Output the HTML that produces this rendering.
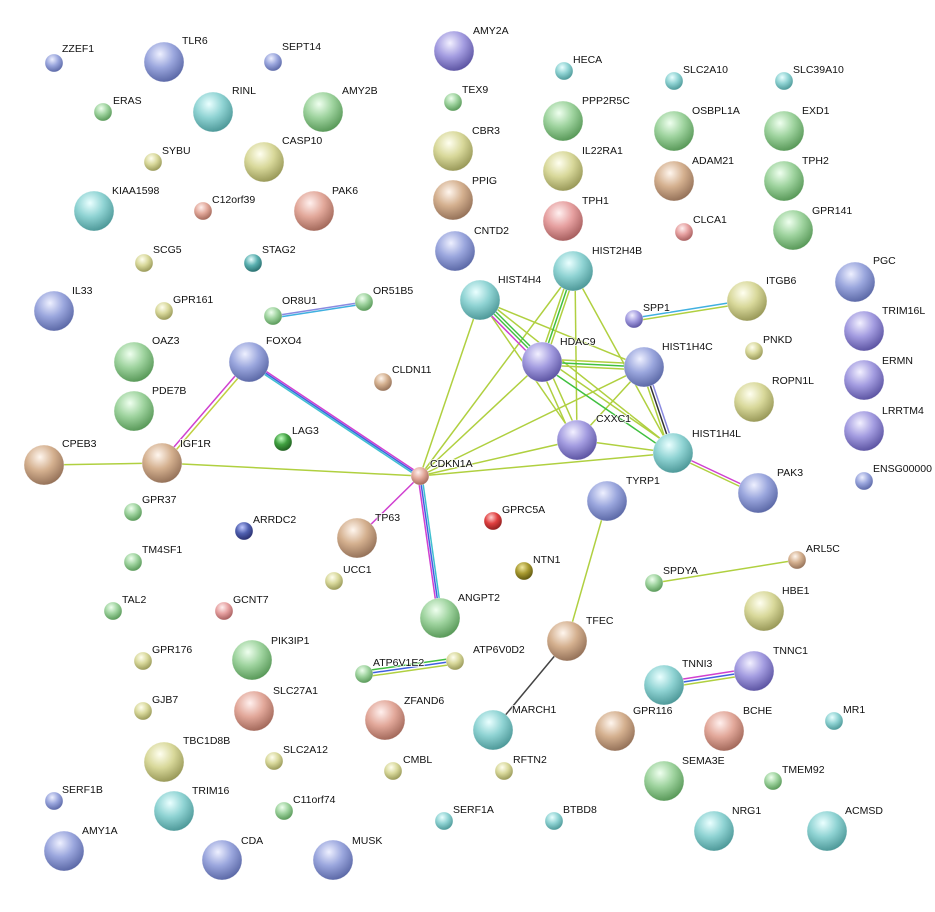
<!DOCTYPE html>
<html><head><meta charset="utf-8"><style>
html,body{margin:0;padding:0;background:#fff}
svg text{font-family:"Liberation Sans",sans-serif;font-size:10.5px;fill:#111;paint-order:stroke;stroke:#fff;stroke-width:2px;stroke-opacity:.7}
</style></head><body>
<svg width="935" height="907" viewBox="0 0 935 907" xmlns="http://www.w3.org/2000/svg">
<defs>
<radialGradient id="b" cx="40%" cy="30%" r="70%"><stop offset="0" stop-color="#eef0ff"/><stop offset=".5" stop-color="#9aa6dd"/><stop offset="1" stop-color="#5d6aa8"/></radialGradient>
<radialGradient id="t" cx="40%" cy="30%" r="70%"><stop offset="0" stop-color="#eaffff"/><stop offset=".5" stop-color="#8fd3d3"/><stop offset="1" stop-color="#4f9a9a"/></radialGradient>
<radialGradient id="g" cx="40%" cy="30%" r="70%"><stop offset="0" stop-color="#efffef"/><stop offset=".5" stop-color="#9ed39e"/><stop offset="1" stop-color="#5a9a5a"/></radialGradient>
<radialGradient id="y" cx="40%" cy="30%" r="70%"><stop offset="0" stop-color="#fffff0"/><stop offset=".5" stop-color="#d8d89a"/><stop offset="1" stop-color="#9a9a5a"/></radialGradient>
<radialGradient id="n" cx="40%" cy="30%" r="70%"><stop offset="0" stop-color="#fff6ee"/><stop offset=".5" stop-color="#d4b08f"/><stop offset="1" stop-color="#96735a"/></radialGradient>
<radialGradient id="s" cx="40%" cy="30%" r="70%"><stop offset="0" stop-color="#fff0ee"/><stop offset=".5" stop-color="#e2a89a"/><stop offset="1" stop-color="#a46a5c"/></radialGradient>
<radialGradient id="p" cx="40%" cy="30%" r="70%"><stop offset="0" stop-color="#f2f0ff"/><stop offset=".5" stop-color="#a39ce0"/><stop offset="1" stop-color="#5e56a4"/></radialGradient>
<radialGradient id="k" cx="40%" cy="30%" r="70%"><stop offset="0" stop-color="#fff0f0"/><stop offset=".5" stop-color="#e6a0a0"/><stop offset="1" stop-color="#a86060"/></radialGradient>
<radialGradient id="r" cx="40%" cy="30%" r="70%"><stop offset="0" stop-color="#ffd0d0"/><stop offset=".5" stop-color="#e04040"/><stop offset="1" stop-color="#902020"/></radialGradient>
<radialGradient id="d" cx="40%" cy="30%" r="70%"><stop offset="0" stop-color="#c0c8ff"/><stop offset=".5" stop-color="#5060b0"/><stop offset="1" stop-color="#2a3070"/></radialGradient>
<radialGradient id="e" cx="40%" cy="30%" r="70%"><stop offset="0" stop-color="#c0ffc0"/><stop offset=".5" stop-color="#40a040"/><stop offset="1" stop-color="#206020"/></radialGradient>
<radialGradient id="o" cx="40%" cy="30%" r="70%"><stop offset="0" stop-color="#f0e8a0"/><stop offset=".5" stop-color="#a89a30"/><stop offset="1" stop-color="#605810"/></radialGradient>
<radialGradient id="a" cx="40%" cy="30%" r="70%"><stop offset="0" stop-color="#eaffff"/><stop offset=".5" stop-color="#5ab0b0"/><stop offset="1" stop-color="#2a7070"/></radialGradient>
</defs>
<g fill="none" stroke-width="1.5">
<line x1="273" y1="316" x2="364" y2="302" stroke="#8a8ae0"/><line x1="273" y1="318" x2="364" y2="304" stroke="#40b0e0"/>
<line x1="634" y1="318" x2="747" y2="300" stroke="#40b0e0"/><line x1="634" y1="321" x2="747" y2="303" stroke="#b0d040"/>
<line x1="248" y1="361" x2="161" y2="462" stroke="#d040d0"/><line x1="251" y1="363" x2="164" y2="464" stroke="#c0d040"/>
<line x1="249" y1="360" x2="420" y2="474" stroke="#d040d0"/><line x1="249" y1="362" x2="420" y2="476" stroke="#4060e0"/><line x1="249" y1="364" x2="420" y2="478" stroke="#40c0d0"/>
<line x1="44" y1="465" x2="162" y2="463" stroke="#b0d040"/><line x1="162" y1="463" x2="420" y2="476" stroke="#b0d040"/>
<line x1="420" y1="476" x2="357" y2="538" stroke="#d040d0"/>
<line x1="418" y1="476" x2="438" y2="618" stroke="#d040d0"/><line x1="420" y1="476" x2="440" y2="618" stroke="#4060e0"/><line x1="422" y1="476" x2="442" y2="618" stroke="#40c0d0"/>
<g stroke="#b0d040">
<line x1="420" y1="476" x2="480" y2="300"/><line x1="420" y1="476" x2="573" y2="271"/><line x1="420" y1="476" x2="542" y2="362"/><line x1="420" y1="476" x2="644" y2="367"/><line x1="420" y1="476" x2="673" y2="453"/><line x1="420" y1="476" x2="577" y2="440"/>
<line x1="480" y1="300" x2="577" y2="440"/><line x1="575" y1="271" x2="577" y2="440"/><line x1="538" y1="362" x2="573" y2="440"/><line x1="546" y1="362" x2="581" y2="440"/><line x1="644" y1="367" x2="577" y2="440"/>
<line x1="573" y1="271" x2="673" y2="453"/><line x1="480" y1="300" x2="644" y2="367"/><line x1="544" y1="358" x2="675" y2="449"/>
<line x1="577" y1="440" x2="673" y2="453"/>
<line x1="483" y1="298" x2="676" y2="451"/>
</g>
<line x1="478" y1="302" x2="540" y2="365" stroke="#d040d0"/><line x1="480" y1="300" x2="542" y2="362" stroke="#40c040"/><line x1="482" y1="298" x2="544" y2="360" stroke="#40c040"/>
<line x1="570" y1="271" x2="539" y2="362" stroke="#b0d040"/><line x1="573" y1="271" x2="542" y2="362" stroke="#40c040"/><line x1="576" y1="271" x2="545" y2="362" stroke="#b0d040"/>
<line x1="542" y1="359" x2="644" y2="364" stroke="#b0d040"/><line x1="542" y1="362" x2="644" y2="367" stroke="#40c040"/><line x1="542" y1="365" x2="644" y2="370" stroke="#b0d040"/>
<line x1="542" y1="365" x2="673" y2="455" stroke="#40c040"/>
<line x1="641" y1="367" x2="670" y2="453" stroke="#b0d040"/><line x1="644" y1="367" x2="673" y2="453" stroke="#333"/><line x1="647" y1="367" x2="676" y2="453" stroke="#8a8ae0"/>
<line x1="673" y1="452" x2="758" y2="492" stroke="#d040d0"/><line x1="673" y1="455" x2="758" y2="495" stroke="#b0d040"/>
<line x1="607" y1="501" x2="567" y2="641" stroke="#b0d040"/>
<line x1="567" y1="641" x2="493" y2="730" stroke="#444"/>
<line x1="654" y1="583" x2="797" y2="560" stroke="#b0d040"/>
<line x1="664" y1="682" x2="754" y2="668" stroke="#d040d0"/><line x1="664" y1="685" x2="754" y2="671" stroke="#4060e0"/><line x1="664" y1="688" x2="754" y2="674" stroke="#b0d040"/>
<line x1="364" y1="671" x2="455" y2="658" stroke="#40c040"/><line x1="364" y1="674" x2="455" y2="661" stroke="#4060e0"/><line x1="364" y1="677" x2="455" y2="664" stroke="#b0d040"/>
</g>
<g stroke="#fff" stroke-width=".5" stroke-opacity=".6">
<circle cx="54" cy="63" r="9" fill="url(#b)"/><circle cx="164" cy="62" r="20" fill="url(#b)"/><circle cx="273" cy="62" r="9" fill="url(#b)"/>
<circle cx="103" cy="112" r="9" fill="url(#g)"/><circle cx="213" cy="112" r="20" fill="url(#t)"/><circle cx="323" cy="112" r="20" fill="url(#g)"/>
<circle cx="153" cy="162" r="9" fill="url(#y)"/><circle cx="264" cy="162" r="20" fill="url(#y)"/>
<circle cx="94" cy="211" r="20" fill="url(#t)"/><circle cx="203" cy="211" r="9" fill="url(#s)"/><circle cx="314" cy="211" r="20" fill="url(#s)"/>
<circle cx="144" cy="263" r="9" fill="url(#y)"/><circle cx="253" cy="263" r="9" fill="url(#a)"/>
<circle cx="54" cy="311" r="20" fill="url(#b)"/><circle cx="164" cy="311" r="9" fill="url(#y)"/><circle cx="273" cy="316" r="9" fill="url(#g)"/><circle cx="364" cy="302" r="9" fill="url(#g)"/>
<circle cx="134" cy="362" r="20" fill="url(#g)"/><circle cx="249" cy="362" r="20" fill="url(#b)"/><circle cx="383" cy="382" r="9" fill="url(#n)"/>
<circle cx="134" cy="411" r="20" fill="url(#g)"/><circle cx="283" cy="442" r="9" fill="url(#e)"/>
<circle cx="44" cy="465" r="20" fill="url(#n)"/><circle cx="162" cy="463" r="20" fill="url(#n)"/><circle cx="420" cy="476" r="9" fill="url(#s)"/>
<circle cx="133" cy="512" r="9" fill="url(#g)"/><circle cx="244" cy="531" r="9" fill="url(#d)"/><circle cx="357" cy="538" r="20" fill="url(#n)"/><circle cx="493" cy="521" r="9" fill="url(#r)"/>
<circle cx="133" cy="562" r="9" fill="url(#g)"/><circle cx="524" cy="571" r="9" fill="url(#o)"/><circle cx="334" cy="581" r="9" fill="url(#y)"/>
<circle cx="113" cy="611" r="9" fill="url(#g)"/><circle cx="224" cy="611" r="9" fill="url(#k)"/><circle cx="440" cy="618" r="20" fill="url(#g)"/>
<circle cx="143" cy="661" r="9" fill="url(#y)"/><circle cx="252" cy="660" r="20" fill="url(#g)"/><circle cx="364" cy="674" r="9" fill="url(#g)"/><circle cx="455" cy="661" r="9" fill="url(#y)"/>
<circle cx="143" cy="711" r="9" fill="url(#y)"/><circle cx="254" cy="711" r="20" fill="url(#s)"/><circle cx="385" cy="720" r="20" fill="url(#s)"/>
<circle cx="164" cy="762" r="20" fill="url(#y)"/><circle cx="274" cy="761" r="9" fill="url(#y)"/><circle cx="393" cy="771" r="9" fill="url(#y)"/><circle cx="504" cy="771" r="9" fill="url(#y)"/><circle cx="493" cy="730" r="20" fill="url(#t)"/>
<circle cx="54" cy="801" r="9" fill="url(#b)"/><circle cx="174" cy="811" r="20" fill="url(#t)"/><circle cx="284" cy="811" r="9" fill="url(#g)"/><circle cx="444" cy="821" r="9" fill="url(#t)"/><circle cx="554" cy="821" r="9" fill="url(#t)"/>
<circle cx="64" cy="851" r="20" fill="url(#b)"/><circle cx="222" cy="860" r="20" fill="url(#b)"/><circle cx="333" cy="860" r="20" fill="url(#b)"/>
<circle cx="454" cy="51" r="20" fill="url(#p)"/><circle cx="453" cy="102" r="9" fill="url(#g)"/><circle cx="564" cy="71" r="9" fill="url(#t)"/><circle cx="674" cy="81" r="9" fill="url(#t)"/><circle cx="784" cy="81" r="9" fill="url(#t)"/>
<circle cx="453" cy="151" r="20" fill="url(#y)"/><circle cx="563" cy="121" r="20" fill="url(#g)"/><circle cx="674" cy="131" r="20" fill="url(#g)"/><circle cx="784" cy="131" r="20" fill="url(#g)"/>
<circle cx="453" cy="200" r="20" fill="url(#n)"/><circle cx="563" cy="171" r="20" fill="url(#y)"/><circle cx="674" cy="181" r="20" fill="url(#n)"/><circle cx="784" cy="181" r="20" fill="url(#g)"/>
<circle cx="455" cy="251" r="20" fill="url(#b)"/><circle cx="563" cy="221" r="20" fill="url(#k)"/><circle cx="684" cy="232" r="9" fill="url(#k)"/><circle cx="793" cy="230" r="20" fill="url(#g)"/>
<circle cx="573" cy="271" r="20" fill="url(#t)"/><circle cx="480" cy="300" r="20" fill="url(#t)"/><circle cx="634" cy="319" r="9" fill="url(#p)"/><circle cx="747" cy="301" r="20" fill="url(#y)"/><circle cx="855" cy="282" r="20" fill="url(#b)"/><circle cx="864" cy="331" r="20" fill="url(#p)"/>
<circle cx="542" cy="362" r="20" fill="url(#p)"/><circle cx="644" cy="367" r="20" fill="url(#b)"/><circle cx="754" cy="351" r="9" fill="url(#y)"/><circle cx="864" cy="380" r="20" fill="url(#p)"/><circle cx="754" cy="402" r="20" fill="url(#y)"/>
<circle cx="577" cy="440" r="20" fill="url(#p)"/><circle cx="864" cy="431" r="20" fill="url(#p)"/><circle cx="673" cy="453" r="20" fill="url(#t)"/><circle cx="758" cy="493" r="20" fill="url(#b)"/><circle cx="864" cy="481" r="9" fill="url(#b)"/><circle cx="607" cy="501" r="20" fill="url(#b)"/>
<circle cx="654" cy="583" r="9" fill="url(#g)"/><circle cx="797" cy="560" r="9" fill="url(#n)"/><circle cx="764" cy="611" r="20" fill="url(#y)"/><circle cx="567" cy="641" r="20" fill="url(#n)"/>
<circle cx="664" cy="685" r="20" fill="url(#t)"/><circle cx="754" cy="671" r="20" fill="url(#p)"/><circle cx="615" cy="731" r="20" fill="url(#n)"/><circle cx="724" cy="731" r="20" fill="url(#s)"/><circle cx="834" cy="721" r="9" fill="url(#t)"/>
<circle cx="664" cy="781" r="20" fill="url(#g)"/><circle cx="773" cy="781" r="9" fill="url(#g)"/><circle cx="714" cy="831" r="20" fill="url(#t)"/><circle cx="827" cy="831" r="20" fill="url(#t)"/>
</g>
<g>
<text x="62" y="52">ZZEF1</text><text x="182" y="44">TLR6</text><text x="282" y="50">SEPT14</text>
<text x="113" y="104">ERAS</text><text x="232" y="94">RINL</text><text x="342" y="94">AMY2B</text>
<text x="162" y="154">SYBU</text><text x="282" y="144">CASP10</text>
<text x="112" y="194">KIAA1598</text><text x="212" y="203">C12orf39</text><text x="332" y="194">PAK6</text>
<text x="153" y="253">SCG5</text><text x="262" y="253">STAG2</text>
<text x="72" y="294">IL33</text><text x="173" y="303">GPR161</text><text x="282" y="304">OR8U1</text><text x="373" y="294">OR51B5</text>
<text x="152" y="344">OAZ3</text><text x="266" y="344">FOXO4</text><text x="392" y="373">CLDN11</text>
<text x="152" y="394">PDE7B</text><text x="292" y="434">LAG3</text>
<text x="62" y="447">CPEB3</text><text x="180" y="447">IGF1R</text><text x="430" y="467">CDKN1A</text>
<text x="142" y="503">GPR37</text><text x="253" y="523">ARRDC2</text><text x="375" y="521">TP63</text><text x="502" y="513">GPRC5A</text>
<text x="142" y="553">TM4SF1</text><text x="533" y="563">NTN1</text><text x="343" y="573">UCC1</text>
<text x="122" y="603">TAL2</text><text x="233" y="603">GCNT7</text><text x="458" y="601">ANGPT2</text>
<text x="152" y="653">GPR176</text><text x="271" y="644">PIK3IP1</text><text x="373" y="666">ATP6V1E2</text><text x="473" y="653">ATP6V0D2</text>
<text x="152" y="703">GJB7</text><text x="273" y="694">SLC27A1</text><text x="404" y="704">ZFAND6</text>
<text x="183" y="744">TBC1D8B</text><text x="283" y="753">SLC2A12</text><text x="403" y="763">CMBL</text><text x="513" y="763">RFTN2</text><text x="512" y="713">MARCH1</text>
<text x="62" y="793">SERF1B</text><text x="192" y="794">TRIM16</text><text x="293" y="803">C11orf74</text><text x="453" y="813">SERF1A</text><text x="563" y="813">BTBD8</text>
<text x="82" y="834">AMY1A</text><text x="241" y="844">CDA</text><text x="352" y="844">MUSK</text>
<text x="473" y="34">AMY2A</text><text x="462" y="93">TEX9</text><text x="573" y="63">HECA</text><text x="683" y="73">SLC2A10</text><text x="793" y="73">SLC39A10</text>
<text x="472" y="134">CBR3</text><text x="582" y="104">PPP2R5C</text><text x="692" y="114">OSBPL1A</text><text x="802" y="114">EXD1</text>
<text x="472" y="184">PPIG</text><text x="582" y="154">IL22RA1</text><text x="692" y="164">ADAM21</text><text x="802" y="164">TPH2</text>
<text x="474" y="234">CNTD2</text><text x="582" y="204">TPH1</text><text x="693" y="223">CLCA1</text><text x="812" y="214">GPR141</text>
<text x="592" y="254">HIST2H4B</text><text x="498" y="283">HIST4H4</text><text x="643" y="311">SPP1</text><text x="766" y="284">ITGB6</text><text x="873" y="264">PGC</text><text x="882" y="314">TRIM16L</text>
<text x="560" y="345">HDAC9</text><text x="662" y="350">HIST1H4C</text><text x="763" y="343">PNKD</text><text x="882" y="364">ERMN</text><text x="772" y="384">ROPN1L</text>
<text x="596" y="422">CXXC1</text><text x="882" y="414">LRRTM4</text><text x="692" y="437">HIST1H4L</text><text x="777" y="476">PAK3</text><text x="873" y="472">ENSG00000</text><text x="626" y="484">TYRP1</text>
<text x="663" y="574">SPDYA</text><text x="806" y="552">ARL5C</text><text x="782" y="594">HBE1</text><text x="586" y="624">TFEC</text>
<text x="682" y="667">TNNI3</text><text x="773" y="654">TNNC1</text><text x="633" y="714">GPR116</text><text x="743" y="714">BCHE</text><text x="843" y="713">MR1</text>
<text x="682" y="764">SEMA3E</text><text x="782" y="773">TMEM92</text><text x="732" y="814">NRG1</text><text x="845" y="814">ACMSD</text>
</g>
</svg>
</body></html>
